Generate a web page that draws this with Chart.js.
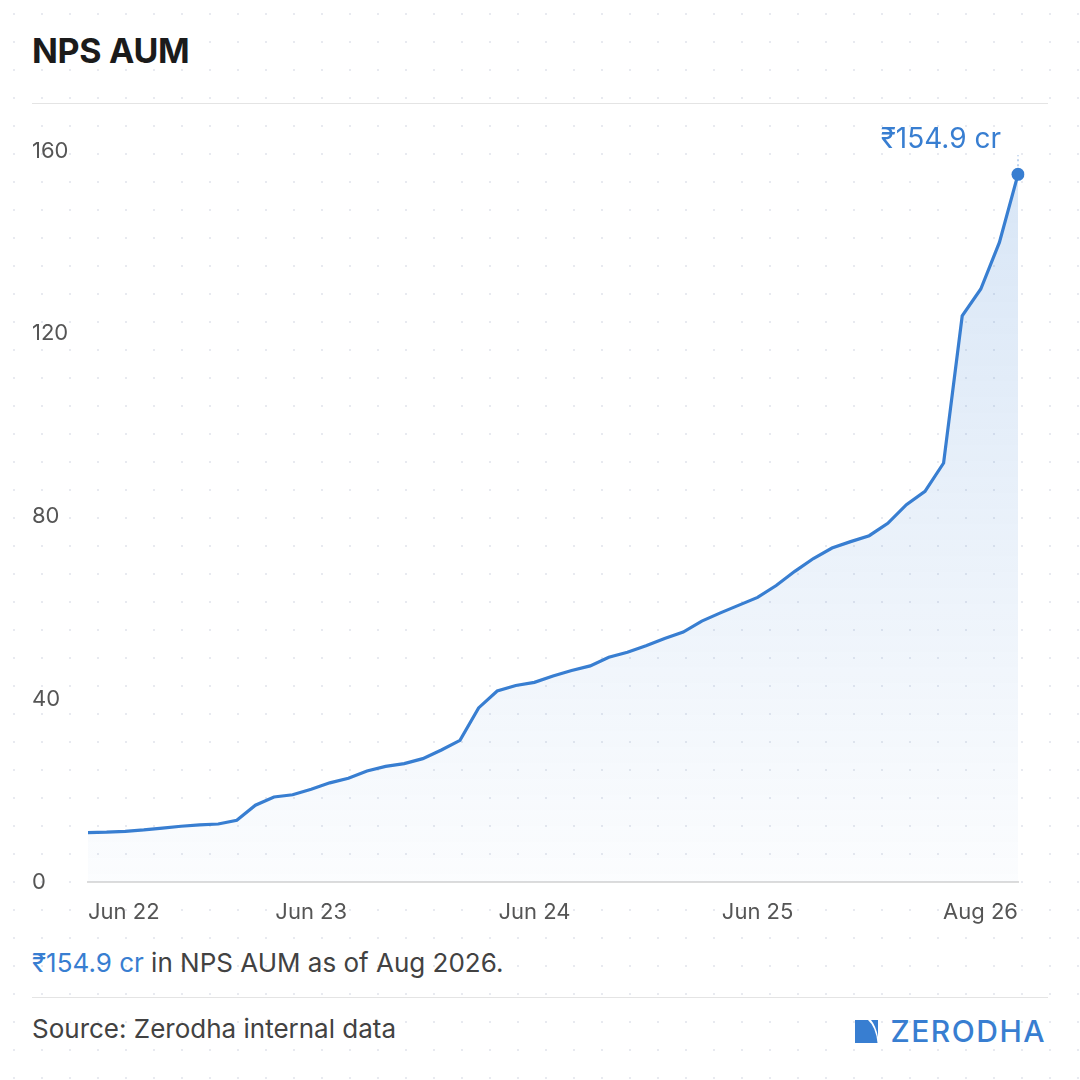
<!DOCTYPE html>
<html>
<head>
<meta charset="utf-8">
<script src="https://cdn.jsdelivr.net/npm/chart.js@4.4.1/dist/chart.umd.min.js"></script>
<style>
    html, body {
        margin: 0;
        padding: 0;
    }
    body {
        width: 1080px;
        height: 1080px;
        position: relative;
        overflow: hidden;
        font-family: Inter, "Noto Sans", sans-serif;
        background-color: #fff;
        background-image: radial-gradient(circle, #e8eaf0 1px, transparent 1.5px);
        background-size: 28px 28px;
    }
    .title {
        position: absolute;
        left: 32px;
        top: 30px;
        font-size: 34px;
        font-weight: 700;
        color: #1b1b1b;
        letter-spacing: -0.3px;
    }
    .rule {
        position: absolute;
        left: 32px;
        width: 1016px;
        height: 1px;
        background: #e4e4e4;
    }
    .chart-box {
        position: absolute;
        left: 32px;
        top: 120px;
        width: 1016px;
        height: 810px;
    }
    .note {
        position: absolute;
        left: 32px;
        top: 947px;
        font-size: 26px;
        color: #424242;
    }
    .note .val { color: #387ed1; }
    .source {
        position: absolute;
        left: 32px;
        top: 1013px;
        font-size: 26px;
        color: #424242;
    }
    .logo {
        position: absolute;
        right: 34px;
        top: 1013px;
        display: flex;
        align-items: center;
        gap: 12px;
        color: #387ed1;
        font-size: 30px;
        font-weight: 500;
        letter-spacing: 1.5px;
    }
</style>
</head>
<body>
<div class="title">NPS AUM</div>
<div class="rule" style="top:103px"></div>
<div class="chart-box"><canvas id="aum"></canvas></div>
<div class="note"><span class="val" id="noteVal"></span> in NPS AUM as of Aug 2026.</div>
<div class="rule" style="top:997px"></div>
<div class="source">Source: Zerodha internal data</div>
<div class="logo">
    <svg width="23" height="23" viewBox="0 0 23 23">
        <path d="M0 0 H13 Q21 7 22.5 23 H0 Z" fill="#387ed1"/>
        <path d="M16 0 H23 V17 Q21 6 16 0 Z" fill="#387ed1"/>
    </svg>
    <span>ZERODHA</span>
</div>

<script>
const months = [
    "Jun 22", "Jul 22", "Aug 22", "Sep 22", "Oct 22", "Nov 22", "Dec 22",
    "Jan 23", "Feb 23", "Mar 23", "Apr 23", "May 23", "Jun 23", "Jul 23", "Aug 23", "Sep 23", "Oct 23", "Nov 23", "Dec 23",
    "Jan 24", "Feb 24", "Mar 24", "Apr 24", "May 24", "Jun 24", "Jul 24", "Aug 24", "Sep 24", "Oct 24", "Nov 24", "Dec 24",
    "Jan 25", "Feb 25", "Mar 25", "Apr 25", "May 25", "Jun 25", "Jul 25", "Aug 25", "Sep 25", "Oct 25", "Nov 25", "Dec 25",
    "Jan 26", "Feb 26", "Mar 26", "Apr 26", "May 26", "Jun 26", "Jul 26", "Aug 26"
];

// AUM in crore, month end
const aum = [
    10.8, 10.9, 11.1, 11.4, 11.8, 12.2, 12.5,
    12.7, 13.5, 16.8, 18.6, 19.1, 20.3, 21.7, 22.7, 24.3, 25.3, 25.9, 27.0,
    28.9, 31.0, 38.1, 41.8, 43.0, 43.7, 45.1, 46.3, 47.3, 49.2, 50.3, 51.7,
    53.3, 54.7, 57.1, 58.9, 60.6, 62.3, 64.9, 68.0, 70.8, 73.1, 74.5, 75.8,
    78.5, 82.6, 85.5, 91.7, 123.9, 129.8, 140.0, 154.9
];

const xTicks = ["Jun 22", "Jun 23", "Jun 24", "Jun 25", "Aug 26"];
const yTicks = [0, 40, 80, 120, 160];

const BLUE = "#387ed1";
const last = aum.length - 1;
const lastLabel = "\u20B9" + aum[last].toFixed(1) + " cr";
document.getElementById("noteVal").textContent = lastLabel;

Chart.defaults.font.family = "Inter, 'Noto Sans', sans-serif";

// x labels: first one hugs the left edge, last one the right edge
const xLabelPlugin = {
    id: "xLabels",
    afterDraw(chart) {
        const ctx = chart.ctx;
        const x = chart.scales.x;
        ctx.save();
        ctx.font = "22px Inter, 'Noto Sans', sans-serif";
        ctx.fillStyle = "#555";
        ctx.textBaseline = "middle";
        xTicks.forEach((lab, i) => {
            const px = x.getPixelForValue(months.indexOf(lab));
            ctx.textAlign = i === 0 ? "left" : (i === xTicks.length - 1 ? "right" : "center");
            ctx.fillText(lab, px, chart.chartArea.bottom + 30);
        });
        ctx.restore();
    }
};

const endLabelPlugin = {
    id: "endLabel",
    afterDatasetsDraw(chart) {
        const pt = chart.getDatasetMeta(0).data[last];
        const ctx = chart.ctx;
        ctx.save();
        ctx.strokeStyle = "#a9c4e8";
        ctx.lineWidth = 1.5;
        ctx.setLineDash([2, 3]);
        ctx.beginPath();
        ctx.moveTo(pt.x, pt.y - 8);
        ctx.lineTo(pt.x, pt.y - 19);
        ctx.stroke();
        ctx.setLineDash([]);
        ctx.font = "28px Inter, 'Noto Sans', sans-serif";
        ctx.fillStyle = BLUE;
        ctx.textAlign = "right";
        ctx.textBaseline = "middle";
        ctx.fillText(lastLabel, pt.x - 17, pt.y - 35);
        ctx.restore();
    }
};

new Chart(document.getElementById("aum"), {
    type: "line",
    data: {
        labels: months,
        datasets: [{
            data: aum,
            borderColor: BLUE,
            borderWidth: 3.2,
            tension: 0,
            fill: "origin",
            backgroundColor: (c) => {
                const area = c.chart.chartArea;
                if (!area) return "rgba(56,126,209,0.1)";
                const g = c.chart.ctx.createLinearGradient(0, area.top, 0, area.bottom);
                g.addColorStop(0, "rgba(56,126,209,0.2)");
                g.addColorStop(1, "rgba(56,126,209,0.02)");
                return g;
            },
            pointRadius: (c) => c.dataIndex === last ? 6.5 : 0,
            pointBackgroundColor: BLUE,
            pointBorderWidth: 0,
            pointHoverRadius: 0
        }]
    },
    options: {
        responsive: true,
        maintainAspectRatio: false,
        animation: false,
        events: [],
        layout: { padding: { top: 31, right: 30, left: 0, bottom: 0 } },
        plugins: {
            legend: { display: false },
            tooltip: { enabled: false }
        },
        scales: {
            x: {
                offset: false,
                grid: { display: false },
                border: { display: true, color: "#dcdcdc", width: 2 },
                ticks: { display: false },
                afterFit: (s) => { s.height = 48; }
            },
            y: {
                min: yTicks[0],
                max: yTicks[yTicks.length - 1],
                grid: { display: false },
                border: { display: false },
                afterBuildTicks: (s) => { s.ticks = yTicks.map(v => ({ value: v })); },
                ticks: {
                    crossAlign: "far",
                    color: "#555",
                    font: { size: 22 },
                    padding: 0
                },
                afterFit: (s) => { s.width = 56; }
            }
        }
    },
    plugins: [xLabelPlugin, endLabelPlugin]
});
</script>
</body>
</html>
